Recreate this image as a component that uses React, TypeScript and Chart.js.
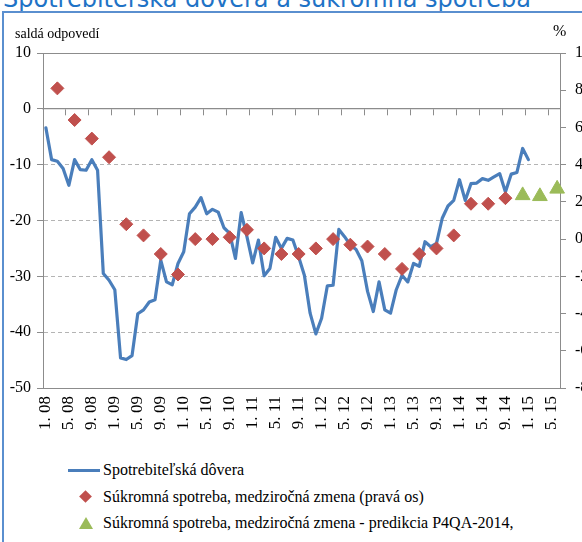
import React, { useEffect, useRef } from 'react';
import { Chart, registerables } from 'chart.js';

Chart.register(...registerables);

// ---- data ----
const years = ['08', '09', '10', '11', '12', '13', '14', '15'];
const monthLabels: string[] = [];
for (const yy of years) for (let m = 1; m <= 12; m++) monthLabels.push(`${m}. ${yy}`);
// monthly categories: 1.2008 – 6.2015
const categories = monthLabels.slice(0, 90);

const tickLabels = [
  '1. 08', '5. 08', '9. 08', '1. 09', '5. 09', '9. 09', '1. 10', '5. 10', '9. 10',
  '1. 11', '5. 11', '9. 11', '1. 12', '5. 12', '9. 12', '1. 13', '5. 13', '9. 13',
  '1. 14', '5. 14', '9. 14', '1. 15', '5. 15',
];

// Spotrebiteľská dôvera (saldá odpovedí), monthly 1.08 – 1.15
const confidence = [
  -3.4, -9.1, -9.4, -10.7, -13.7, -9.1, -10.9, -11.0, -9.1, -11.0,
  -29.5, -30.7, -32.4, -44.6, -44.9, -44.2, -36.7, -36.0, -34.6, -34.2,
  -27.1, -31.0, -31.5, -27.7, -25.6, -18.8, -17.6, -15.9, -18.8, -18.0,
  -18.5, -21.3, -22.3, -26.8, -18.6, -22.9, -27.6, -23.5, -29.9, -28.6,
  -23.0, -25.0, -23.2, -23.5, -26.5, -29.8, -36.6, -40.3, -37.5, -31.7,
  -31.6, -21.6, -22.9, -24.4, -25.2, -27.2, -32.7, -36.3, -31.0, -36.0,
  -36.6, -32.4, -29.8, -31.0, -27.7, -28.2, -23.8, -24.7, -24.1, -19.6,
  -17.4, -16.4, -12.7, -16.4, -13.4, -13.3, -12.5, -12.8, -12.2, -11.6,
  -14.9, -11.7, -11.4, -7.1, -9.1,
];

// Súkromná spotreba, medziročná zmena (%), quarterly Q1 2008 – Q3 2014 (last month of quarter)
const consumptionMonths = [
  '3. 08', '6. 08', '9. 08', '12. 08', '3. 09', '6. 09', '9. 09', '12. 09', '3. 10',
  '6. 10', '9. 10', '12. 10', '3. 11', '6. 11', '9. 11', '12. 11', '3. 12', '6. 12',
  '9. 12', '12. 12', '3. 13', '6. 13', '9. 13', '12. 13', '3. 14', '6. 14', '9. 14',
];
const consumption = [
  8.1, 6.4, 5.4, 4.4, 0.8, 0.2, -0.8, -1.9, 0.0,
  0.0, 0.1, 0.5, -0.5, -0.8, -0.8, -0.5, 0.0, -0.3,
  -0.4, -0.8, -1.6, -0.8, -0.5, 0.2, 1.9, 1.9, 2.2,
];

// predikcia P4QA-2014
const forecastMonths = ['12. 14', '3. 15', '6. 15'];
const forecast = [2.35, 2.3, 2.7];

const BLUE = '#4A7EBB';
const RED = '#C0504D';
const GREEN = '#9BBB59';
const AXIS = '#8c8c8c';
const GRID = '#b4b4b4';
const SERIF = '"Liberation Serif", "Times New Roman", serif';
const tickFont = { family: SERIF, size: 16 };
const xTickFont = { family: SERIF, size: 17 };

const framePlugin = {
  id: 'plotFrame',
  beforeDatasetsDraw(chart: any) {
    const { ctx, chartArea: a } = chart;
    ctx.save();
    ctx.strokeStyle = AXIS;
    ctx.lineWidth = 1;
    ctx.setLineDash([]);
    ctx.strokeRect(Math.round(a.left) + 0.5, Math.round(a.top) + 0.5, Math.round(a.width), Math.round(a.height));
    ctx.restore();
  },
};

function ChartCanvas() {
  const ref = useRef<HTMLCanvasElement | null>(null);
  useEffect(() => {
    if (!ref.current) return;
    Chart.defaults.font.family = SERIF;
    Chart.defaults.font.size = 16;
    Chart.defaults.color = '#000';
    const chart = new Chart(ref.current, {
      type: 'line',
      data: {
        labels: categories,
        datasets: [
          {
            label: 'Spotrebiteľská dôvera',
            data: confidence,
            borderColor: BLUE,
            backgroundColor: BLUE,
            borderWidth: 3.2,
            pointRadius: 0,
            tension: 0,
            borderJoinStyle: 'round',
            borderCapStyle: 'round',
            yAxisID: 'y',
            order: 2,
          },
          {
            label: 'Súkromná spotreba, medziročná zmena (pravá os)',
            data: consumption.map((v, k) => ({ x: consumptionMonths[k], y: v })),
            showLine: false,
            pointStyle: 'rectRot',
            pointRadius: 6.5,
            pointBackgroundColor: RED,
            pointBorderColor: RED,
            pointBorderWidth: 1,
            borderColor: RED,
            backgroundColor: RED,
            yAxisID: 'y1',
            clip: false,
            order: 1,
          },
          {
            label: 'Súkromná spotreba, medziročná zmena - predikcia P4QA-2014,',
            data: forecast.map((v, k) => ({ x: forecastMonths[k], y: v })),
            showLine: false,
            pointStyle: 'triangle',
            pointRadius: 8.5,
            pointBackgroundColor: GREEN,
            pointBorderColor: GREEN,
            pointBorderWidth: 1,
            borderColor: GREEN,
            backgroundColor: GREEN,
            yAxisID: 'y1',
            clip: false,
            order: 0,
          },
        ],
      } as any,
      options: {
        animation: false,
        responsive: false,
        maintainAspectRatio: false,
        devicePixelRatio: 1,
        font: { family: SERIF, size: 16 },
        layout: { padding: { left: 0, right: 0, top: 53, bottom: 0 } },
        plugins: { legend: { display: false }, tooltip: { enabled: false } },
        scales: {
          x: {
            type: 'category',
            offset: true,
            grid: { display: false, drawTicks: false },
            border: { display: true, color: AXIS },
            ticks: {
              autoSkip: false,
              minRotation: 90,
              maxRotation: 90,
              padding: 8,
              color: '#000',
              font: xTickFont,
              callback: (_v: any, i: number) => (i % 4 === 0 && tickLabels[i / 4] ? tickLabels[i / 4] : ''),
            },
            afterFit: (s: any) => {
              s.height = 72;
            },
          },
          xz: {
            axis: 'x',
            type: 'linear',
            position: { y: 0 },
            min: 0,
            max: categories.length,
            afterBuildTicks: (s: any) => {
              s.ticks = tickLabels.map((_, k) => ({ value: 4 * k })).concat([{ value: categories.length }]);
            },
            grid: { display: true, drawOnChartArea: false, drawTicks: true, tickLength: 6, tickColor: AXIS, tickWidth: 1 },
            border: { display: true, color: AXIS, width: 1.3 },
            ticks: { display: false },
          },
          y: {
            type: 'linear',
            position: 'left',
            min: -50,
            max: 10,
            ticks: { stepSize: 10, padding: 6, color: '#000', font: tickFont },
            grid: {
              color: (c: any) => (c.tick && (c.tick.value === 0 || c.tick.value === 10 || c.tick.value === -50) ? 'rgba(0,0,0,0)' : GRID),
              lineWidth: 1,
              drawTicks: true,
              tickLength: 6,
              tickColor: AXIS,
              tickBorderDash: [],
            },
            border: { display: true, color: AXIS, dash: [4, 3] },
            afterFit: (s: any) => {
              s.width = 43;
            },
          },
          y1: {
            type: 'linear',
            position: 'right',
            min: -8,
            max: 10,
            ticks: { stepSize: 2, padding: 9, color: '#000', font: tickFont },
            grid: { drawOnChartArea: false, drawTicks: true, tickLength: 6, tickColor: AXIS },
            border: { display: true, color: AXIS },
            afterFit: (s: any) => {
              s.width = 50;
            },
          },
        },
      } as any,
      plugins: [framePlugin],
    });
    return () => chart.destroy();
  }, []);
  return (
    <canvas
      ref={ref}
      width={610}
      height={460}
      style={{ position: 'absolute', left: 0, top: 0, width: 610, height: 460 }}
    />
  );
}

const legendText: React.CSSProperties = {
  position: 'absolute',
  left: 103,
  fontFamily: SERIF,
  fontSize: 16,
  lineHeight: '20px',
  whiteSpace: 'nowrap',
  color: '#000',
};

export default function App() {
  return (
    <div
      style={{
        position: 'absolute',
        left: 0,
        top: 0,
        width: 582,
        height: 542,
        overflow: 'hidden',
        background: '#fff',
      }}
    >
      {/* slide title, partly outside the visible area */}
      <div
        style={{
          position: 'absolute',
          left: 3,
          top: -13,
          fontFamily: '"DejaVu Sans", Verdana, sans-serif',
          fontSize: 24,
          lineHeight: '24px',
          color: '#1f73c6',
          whiteSpace: 'nowrap',
        }}
      >
        Spotrebiteľská dôvera a súkromná spotreba
      </div>
      {/* blue frame */}
      <div
        style={{
          position: 'absolute',
          left: 2,
          top: 11,
          width: 700,
          height: 700,
          borderLeft: '2px solid #5a8fcf',
          borderTop: '2px solid #5a8fcf',
          boxSizing: 'border-box',
        }}
      />
      <ChartCanvas />
      <div style={{ position: 'absolute', left: 15, top: 25, fontFamily: SERIF, fontSize: 14, lineHeight: '18px' }}>
        saldá odpovedí
      </div>
      <div style={{ position: 'absolute', left: 553, top: 22, fontFamily: SERIF, fontSize: 16, lineHeight: '18px' }}>
        %
      </div>
      {/* legend */}
      <div style={{ position: 'absolute', left: 68, top: 469, width: 32, height: 3, background: BLUE }} />
      <div style={{ ...legendText, top: 460 }}>Spotrebiteľská dôvera</div>
      <div
        style={{
          position: 'absolute',
          left: 81,
          top: 492,
          width: 9,
          height: 9,
          background: RED,
          transform: 'rotate(45deg)',
        }}
      />
      <div style={{ ...legendText, top: 487 }}>Súkromná spotreba, medziročná zmena (pravá os)</div>
      <div
        style={{
          position: 'absolute',
          left: 79,
          top: 517,
          width: 0,
          height: 0,
          borderLeft: '7px solid transparent',
          borderRight: '7px solid transparent',
          borderBottom: '12px solid ' + GREEN,
        }}
      />
      <div style={{ ...legendText, top: 513 }}>Súkromná spotreba, medziročná zmena - predikcia P4QA-2014,</div>
    </div>
  );
}
